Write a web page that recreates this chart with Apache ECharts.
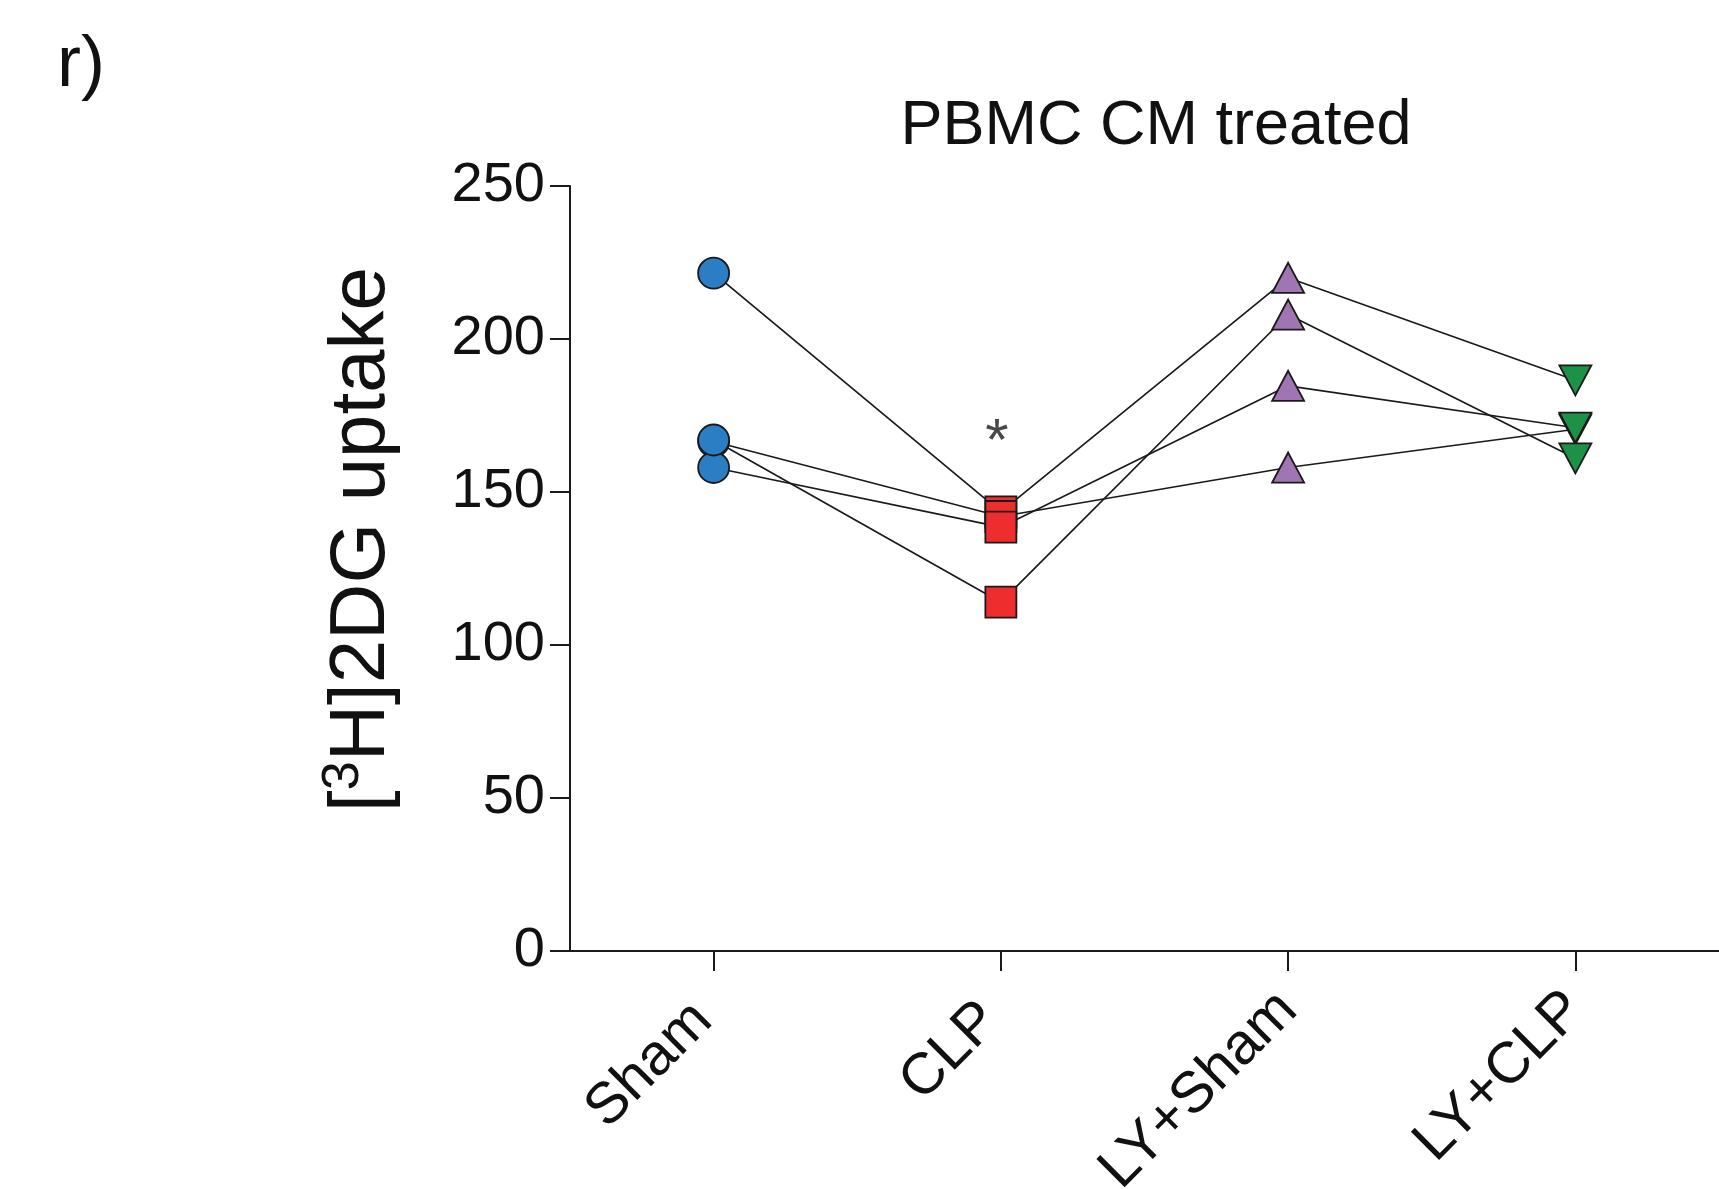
<!DOCTYPE html>
<html>
<head>
<meta charset="utf-8">
<script src="https://cdn.jsdelivr.net/npm/echarts@6/dist/echarts.min.js"></script>
<style>
html,body{margin:0;padding:0;background:#fff;}
#chart{width:1719px;height:1189px;}
</style>
</head>
<body>
<div id="chart"></div>
<script>
// ---- data ----
const categories = ['Sham', 'CLP', 'LY+Sham', 'LY+CLP'];
// one value per subject (subject i is connected across groups)
const shamValues   = [221.5, 166.5, 158.0, 167.0];
const clpValues    = [143.5, 142.0, 138.5, 114.0];
const lyShamValues = [220.0, 158.0, 184.7, 208.0];
const lyClpValues  = [186.5, 170.5, 171.0, 161.0];
const yTicks = [0, 50, 100, 150, 200, 250];
const significance = { category: 'CLP', value: 166, text: '*' };

const FONT = '"Liberation Sans", Arial, Helvetica, sans-serif';
const groups = [
  { name: 'Sham',    values: shamValues,   symbol: 'circle',   rotate: 0,   size: 31,       color: '#2B7EC3' },
  { name: 'CLP',     values: clpValues,    symbol: 'rect',     rotate: 0,   size: 31,       color: '#EE2E2E' },
  { name: 'LY+Sham', values: lyShamValues, symbol: 'triangle', rotate: 0,   size: [32, 30], color: '#9F76B3' },
  { name: 'LY+CLP',  values: lyClpValues,  symbol: 'triangle', rotate: 180, size: [32, 30], color: '#1E9148' }
];
// extra offset along the rotated label (short labels sit a bit further out)
const labelPad = { 'Sham': 15, 'CLP': 15, 'LY+Sham': 0, 'LY+CLP': 0 };

const series = [];
// connecting lines, one per subject
for (let i = 0; i < shamValues.length; i++) {
  series.push({
    type: 'line',
    name: 'subject ' + (i + 1),
    data: groups.map(g => g.values[i]),
    showSymbol: false,
    symbol: 'none',
    silent: true,
    z: 2,
    lineStyle: { color: '#1a1a1a', width: 1.7 }
  });
}
// markers
groups.forEach(g => {
  series.push({
    type: 'scatter',
    name: g.name,
    data: g.values.map(v => [g.name, v]),
    symbol: g.symbol,
    symbolRotate: g.rotate,
    symbolSize: g.size,
    z: 3,
    itemStyle: { color: g.color, borderColor: '#1a1a1a', borderWidth: 1.8, opacity: 1 }
  });
});
// significance star
series.push({
  type: 'scatter',
  data: [[significance.category, significance.value]],
  symbolSize: 0,
  z: 4,
  silent: true,
  label: {
    show: true, position: 'inside', formatter: significance.text, offset: [-4, 0],
    fontSize: 60, fontFamily: FONT, color: '#1a1a1a'
  }
});

const chart = echarts.init(document.getElementById('chart'), null, { renderer: 'canvas' });
chart.setOption({
  animation: false,
  backgroundColor: '#ffffff',
  title: [
    {
      text: 'PBMC CM treated',
      left: 1151, top: 90, textAlign: 'center',
      textStyle: { fontSize: 63, fontWeight: 'normal', fontFamily: FONT, color: '#111' }
    },
    {
      text: 'r)',
      left: 52, top: 25,
      textStyle: { fontSize: 72, fontWeight: 'normal', fontFamily: FONT, color: '#111' }
    }
  ],
  grid: { left: 570, right: 0, top: 186, bottom: 238, containLabel: false, outerBoundsMode: 'none' },
  xAxis: {
    type: 'category',
    data: categories.map(c => ({ value: c, textStyle: { padding: [0, labelPad[c] || 0, 0, 0] } })),
    boundaryGap: true,
    axisLine: { show: true, lineStyle: { color: '#1a1a1a', width: 2 } },
    axisTick: { show: true, alignWithLabel: true, length: 20, lineStyle: { color: '#1a1a1a', width: 2 } },
    axisLabel: { rotate: 45, fontSize: 58, margin: 50, color: '#111', fontFamily: FONT },
    splitLine: { show: false }
  },
  yAxis: {
    type: 'value',
    min: yTicks[0], max: yTicks[yTicks.length - 1], interval: yTicks[1] - yTicks[0],
    name: '{b|[}{sup|3}{b|H]2DG uptake}',
    nameLocation: 'middle',
    nameRotate: 90,
    nameGap: 164,
    nameTextStyle: {
      fontFamily: FONT, color: '#111',
      padding: [0, 0, 0, 58],
      rich: {
        b: { fontSize: 78, fontFamily: FONT, color: '#111' },
        sup: { fontSize: 52, fontFamily: FONT, color: '#111', verticalAlign: 'top', padding: [0, 0, 36, 0] }
      }
    },
    axisLine: { show: true, lineStyle: { color: '#1a1a1a', width: 2 } },
    axisTick: { show: true, length: 20, lineStyle: { color: '#1a1a1a', width: 2 } },
    axisLabel: { fontSize: 56, margin: 25, color: '#111', fontFamily: FONT },
    splitLine: { show: false }
  },
  series: series
});
</script>
</body>
</html>
